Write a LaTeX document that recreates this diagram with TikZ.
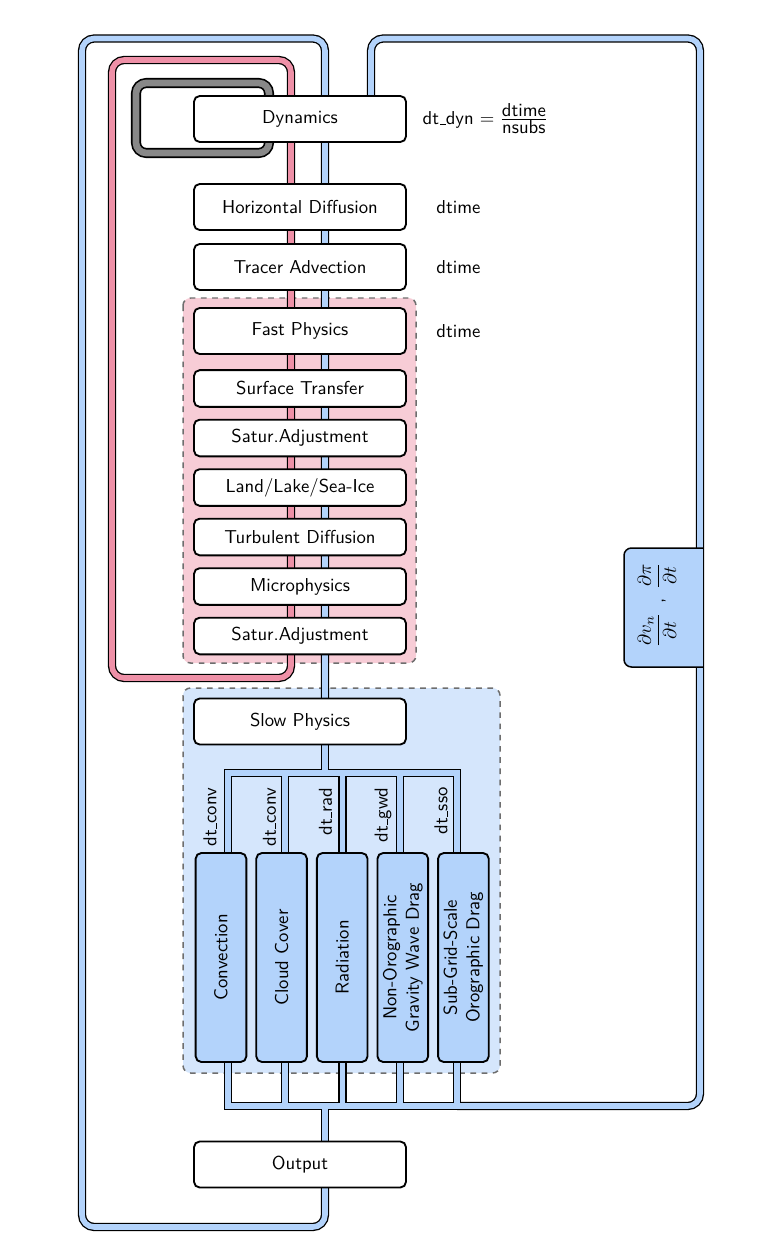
\documentclass[tikz,border=0pt]{standalone}
\usetikzlibrary{calc}
\definecolor{pipeblue}{HTML}{B3D3FB}
\definecolor{grpblue}{HTML}{D5E6FC}
\definecolor{pipered}{HTML}{EE90A7}
\definecolor{grppink}{HTML}{F7CCD6}
\definecolor{pipegray}{HTML}{888888}
\definecolor{dashgray}{HTML}{6E6E6E}
\pgfdeclarelayer{grp}
\pgfdeclarelayer{pipe}
\pgfsetlayers{grp,pipe,main}

% short baseline underscore for the time-step names
\newcommand\us{\leavevmode\kern.06em\vbox{\hrule width.3em}}

% blue piping: drawn twice (black casing, then blue core) so junctions merge
\newcommand\bluenet[1]{%
  % outer loop: Output back up to the top of the column
  \draw[#1, rounded corners=6.5pt] (bx |- output.center) -- (bx |- Lb) -- (Lb) -- (Lt)
        -- (bx |- Lt) -- (bx |- slow.center);
  % return loop: parameterisation tendencies back to Dynamics
  \draw[#1, rounded corners=6.5pt] (b5) -- (Rb) -- (Rt) -- (rx |- Rt) -- (rx |- dyn.center);
  % slow physics distribution bus
  \draw[#1] (bx |- slow.center) -- (bx |- t1);
  \draw[#1] (t1 |- conv.center) -- (t1) -- (t5) -- (t5 |- sso.center);
  \draw[#1] (t2) -- (t2 |- cloud.center) (t3) -- (t3 |- rad.center) (t4) -- (t4 |- nogwd.center);
  % collecting bus
  \draw[#1] (b1 |- conv.center) -- (b1) -- (b5) -- (b5 |- sso.center);
  \draw[#1] (b2) -- (b2 |- cloud.center) (b3) -- (b3 |- rad.center) (b4) -- (b4 |- nogwd.center);
  \draw[#1] (bx |- b1) -- (bx |- output.center);
}

\begin{document}
\begin{tikzpicture}[x=0.535pt, y=-0.535pt, font=\sffamily,
  stepbox/.style={draw, line width=1pt, rounded corners=3pt, fill=white,
    minimum width=113.4pt, minimum height=24.6pt, inner sep=0pt},
  smallbox/.style={stepbox, minimum height=19.6pt},
  parambox/.style={draw, line width=1pt, rounded corners=3pt, fill=pipeblue, rotate=90,
    minimum width=111.8pt, minimum height=27.1pt, inner sep=0pt, align=center},
  dtlabel/.style={rotate=90, anchor=east, inner sep=0pt},
  group/.style={draw=dashgray, dashed, line width=0.8pt, rounded corners=4pt},
  bluecase/.style={draw=black, line width=4.4pt},
  bluecore/.style={draw=pipeblue, line width=3pt},
  redpipe/.style={draw=black, double=pipered, line width=0.7pt, double distance=3pt,
    rounded corners=6.5pt},
  graypipe/.style={draw=black, double=pipegray, line width=0.9pt, double distance=3.6pt,
    rounded corners=5.5pt}]

\useasboundingbox (0,0) rectangle (780,1252);

% ---------------- processes ----------------
\node[stepbox] (dyn)    at (300,119)   {Dynamics};
\node[stepbox] (hdiff)  at (300,207)   {Horizontal Diffusion};
\node[stepbox] (tadv)   at (300,267)   {Tracer Advection};
\node[stepbox] (fast)   at (300,331)   {Fast Physics};
\node[smallbox] (surf)  at (300,388.5) {Surface Transfer};
\node[smallbox] (sat1)  at (300,438)   {Satur.Adjustment};
\node[smallbox] (land)  at (300,487.5) {Land/Lake/Sea-Ice};
\node[smallbox] (turb)  at (300,537)   {Turbulent Diffusion};
\node[smallbox] (micro) at (300,586.5) {Microphysics};
\node[smallbox] (sat2)  at (300,636)   {Satur.Adjustment};
\node[stepbox] (slow)   at (300,721.5) {Slow Physics};
\node[stepbox] (output) at (300,1164.5) {Output};

\node[parambox] (conv)  at (221,957.5)   {Convection};
\node[parambox] (cloud) at (281.6,957.5) {Cloud Cover};
\node[parambox] (rad)   at (342.2,957.5) {Radiation};
\node[parambox] (nogwd) at (402.8,957.5) {Non-Orographic\\Gravity Wave Drag};
\node[parambox] (sso)   at (463.4,957.5) {Sub-Grid-Scale\\Orographic Drag};

% ---------------- time steps ----------------
\node[anchor=west] (dtdyn) at (416,119)
  {dt\us dyn $=\frac{\mbox{dtime}}{\mbox{nsubs}}$};
\node (dthd)   at (458.5,207) {dtime};
\node (dtta)   at (458.5,267) {dtime};
\node (dtfast) at (458.5,331) {dtime};

\node[dtlabel] (lconv)  at (210,787)   {dt\us conv};
\node[dtlabel] (lcloud) at (269.5,787) {dt\us conv};
\node[dtlabel] (lrad)   at (325.5,787) {dt\us rad};
\node[dtlabel] (lgwd)   at (383,787)   {dt\us gwd};
\node[dtlabel] (lsso)   at (441,787)   {dt\us sso};

% ---------------- pipe geometry ----------------
\coordinate (bx) at (325,0);
\coordinate (rx) at (371,0);
\coordinate (px) at (291,0);
\coordinate (Lt) at (82,38.5);
\coordinate (Lb) at (82,1227);
\coordinate (Rt) at (700,38.5);
\coordinate (Rb) at (700,1106);
\coordinate (Pt) at (112,60);
\coordinate (Pb) at (112,678);
\coordinate (Gtl) at (136,83);
\coordinate (Gbr) at (269,153);
\coordinate (t1) at (228,773);
\coordinate (t2) at (285.25,773);
\coordinate (t3) at (342.5,773);
\coordinate (t4) at (399.75,773);
\coordinate (t5) at (457,773);
\coordinate (b1) at (228,1106);
\coordinate (b2) at (285.25,1106);
\coordinate (b3) at (342.5,1106);
\coordinate (b4) at (399.75,1106);
\coordinate (b5) at (457,1106);

% ---------------- groups ----------------
\begin{pgfonlayer}{grp}
  \draw[group, fill=grppink] (183,298) rectangle (416,663);
  \draw[group, fill=grpblue] (183,688) rectangle (500,1073);
\end{pgfonlayer}

% ---------------- pipes ----------------
\begin{pgfonlayer}{pipe}
  % dynamics sub-stepping
  \draw[graypipe] (Gtl) rectangle (Gbr);
  % fast physics loop
  \draw[redpipe] (px |- dyn.center) -- (px |- Pb) -- (Pb) -- (Pt) -- (px |- Pt) -- cycle;
  \bluenet{bluecase}
  \bluenet{bluecore}
\end{pgfonlayer}

% tendency label on the return loop
\fill[pipeblue, rounded corners=4pt] (702.8,548) -- (624,548) -- (624,667) -- (702.8,667);
\draw[line width=0.8pt, rounded corners=4pt] (702.8,548) -- (624,548) -- (624,667) -- (702.8,667);
\node[rotate=90] (tend) at (657,605)
  {$\displaystyle\frac{\partial v_n}{\partial t}$\enspace,\enspace$\displaystyle\frac{\partial \pi}{\partial t}$};

\end{tikzpicture}
\end{document}
